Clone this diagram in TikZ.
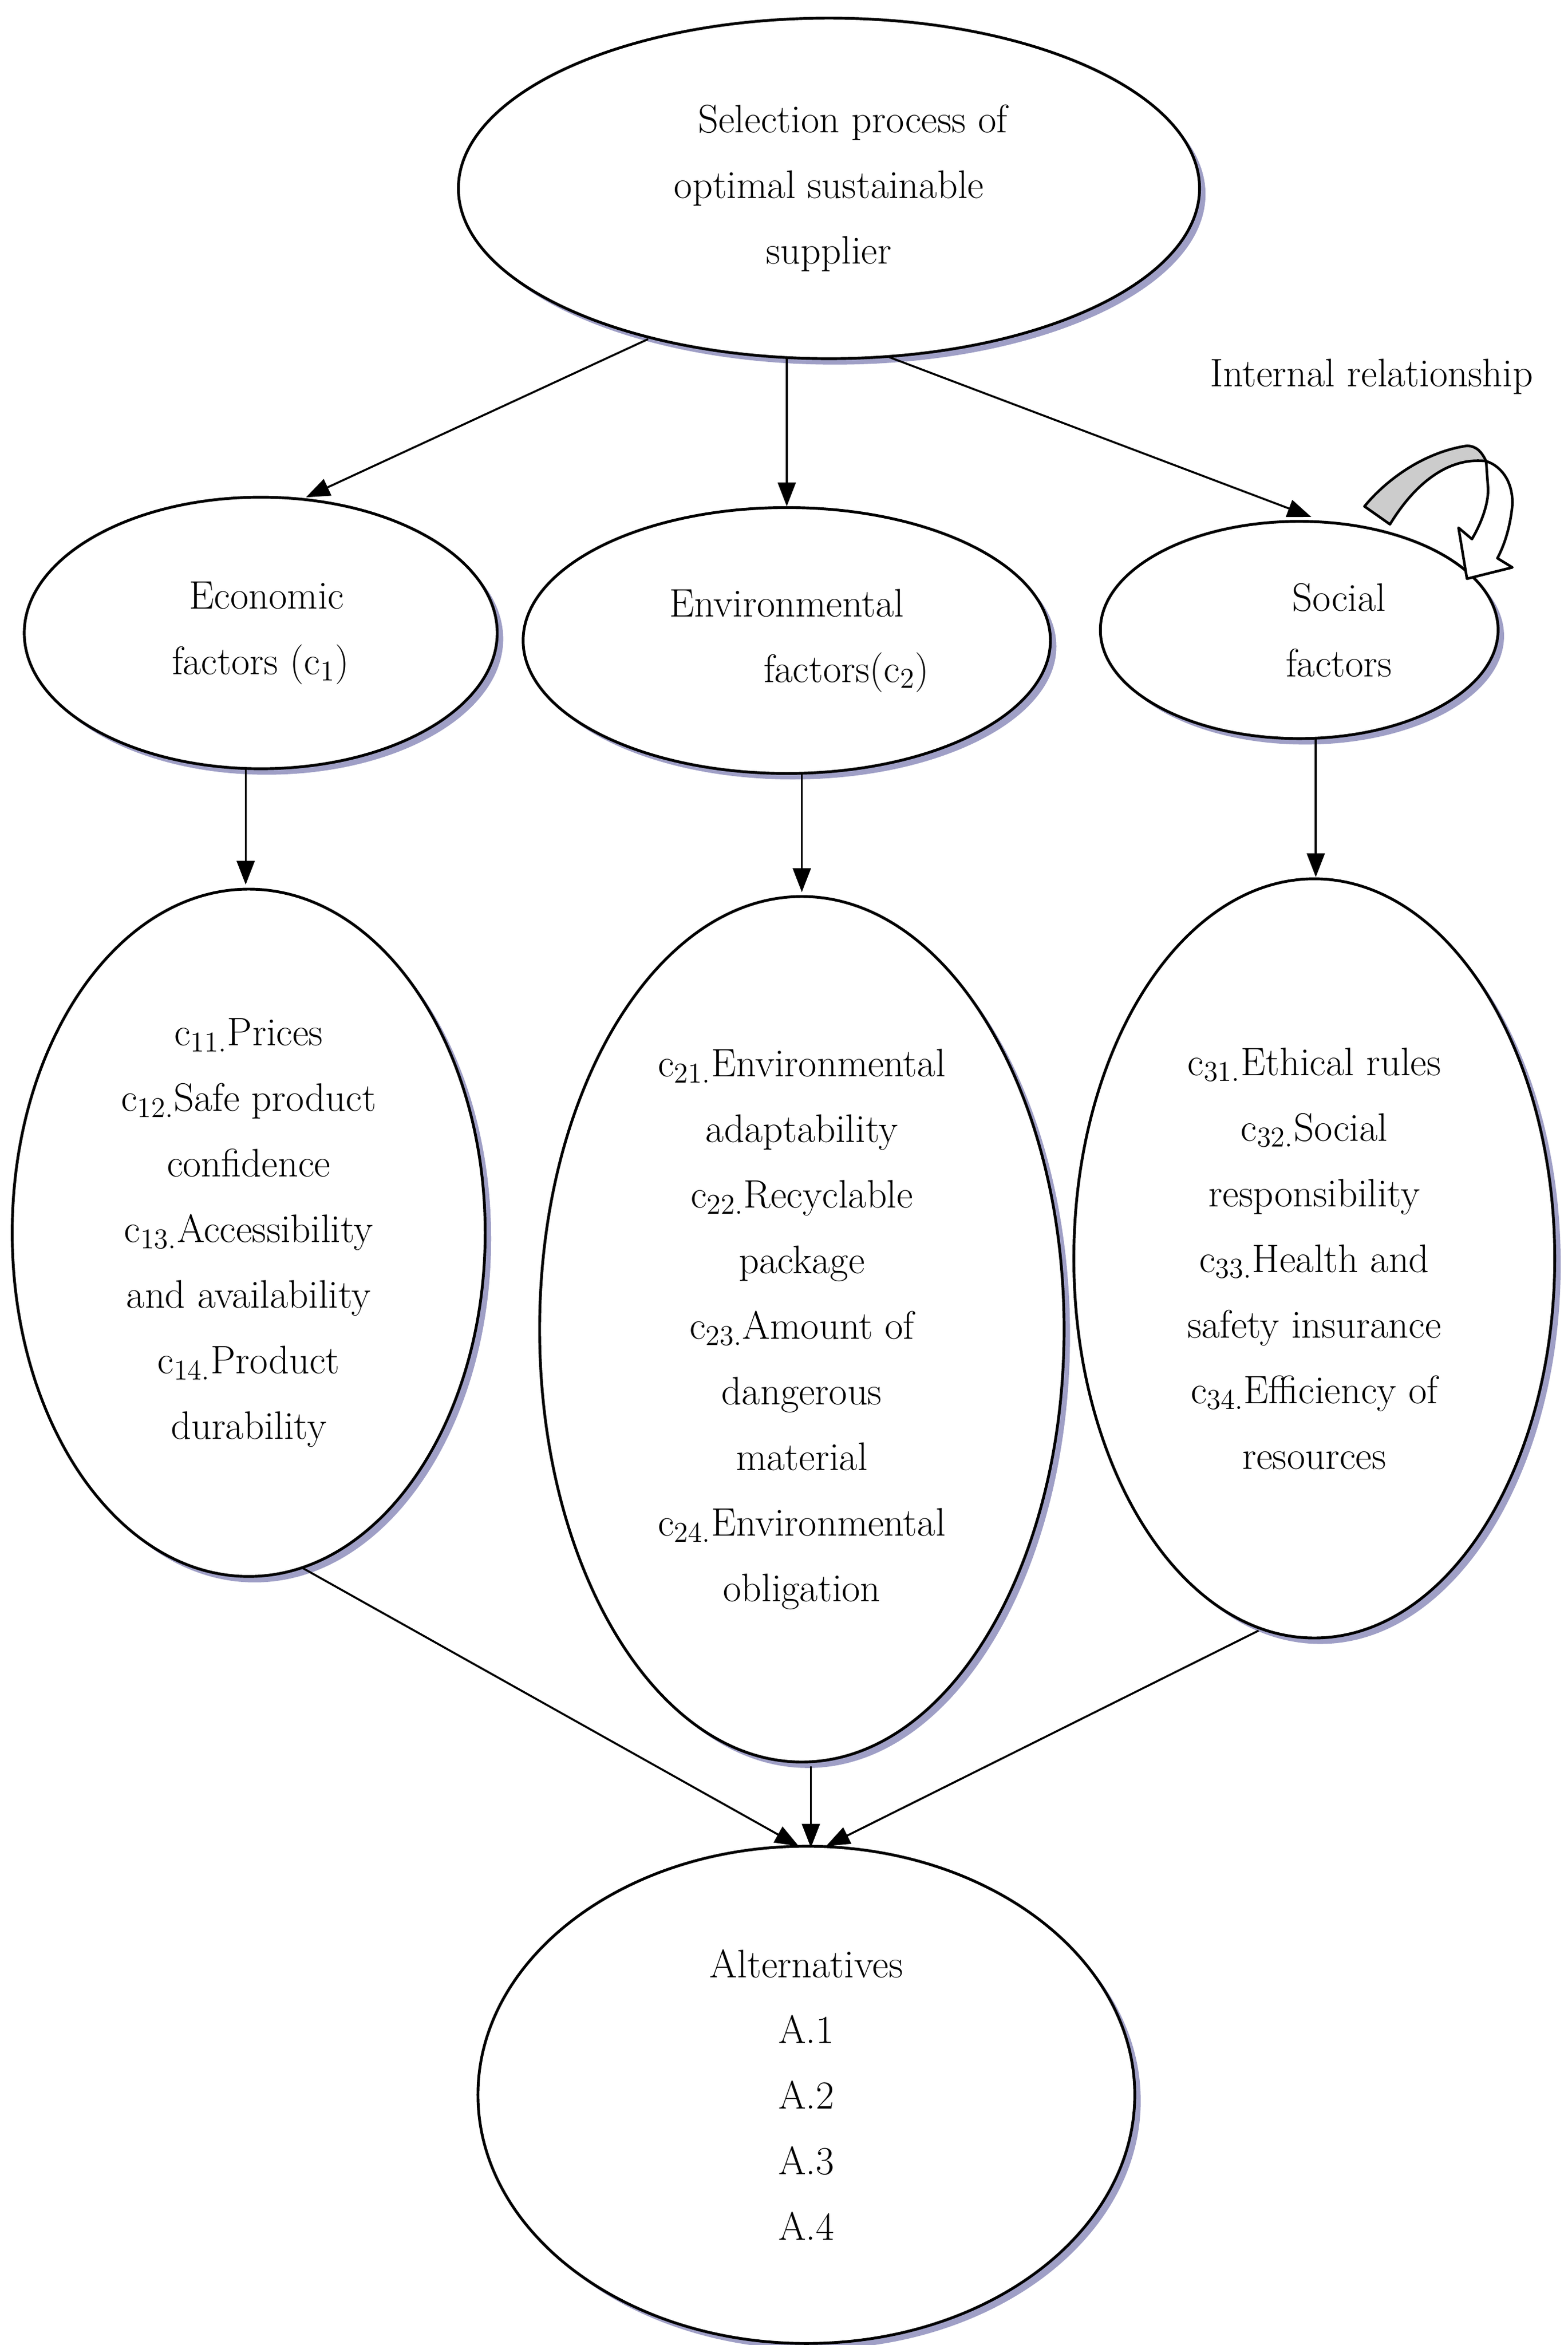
\documentclass[tikz,border=0pt]{standalone}
\usetikzlibrary{shapes.geometric,shadows,arrows.meta}
\begin{document}
\begin{tikzpicture}[x=0.02664cm,y=-0.02664cm,
  el/.style={ellipse,draw,line width=1.4pt,fill=white,inner sep=-4pt,
    drop shadow={shadow xshift=3pt,shadow yshift=-3pt,fill=blue!25!gray!60,opacity=1},
    font=\fontsize{20}{33}\selectfont,align=center},
  ar/.style={-{Triangle[length=12pt,width=9pt]},line width=1pt}]
\useasboundingbox (0,0) rectangle (1040,1556);
\node[el,minimum width=13.1cm,minimum height=6.02cm] (top) at (550,125) {\hspace*{1.2em}Selection process of\\optimal sustainable\\supplier};
\node[el,minimum width=8.36cm,minimum height=4.8cm] (eco) at (173,420) {\hspace*{0.3em}Economic\\factors (c$_1$)};
\node[el,minimum width=9.32cm,minimum height=4.7cm] (env) at (522,425) {Environmental\\\hspace*{3em}factors(c$_2$)};
\node[el,minimum width=7.03cm,minimum height=3.84cm] (soc) at (862,418) {\hspace*{2em}Social\\\hspace*{2em}factors};
\node[el,minimum width=8.36cm,minimum height=12.15cm] (l1) at (165,818) {c$_{11.}$Prices\\c$_{12.}$Safe product\\confidence\\c$_{13.}$Accessibility\\and availability\\c$_{14.}$Product\\durability};
\node[el,minimum width=9.27cm,minimum height=15.3cm] (l2) at (532,882) {c$_{21.}$Environmental\\adaptability\\c$_{22.}$Recyclable\\package\\c$_{23.}$Amount of\\dangerous\\material\\c$_{24.}$Environmental\\obligation};
\node[el,minimum width=8.5cm,minimum height=13.42cm] (l3) at (872,835) {c$_{31.}$Ethical rules\\c$_{32.}$Social\\responsibility\\c$_{33.}$Health and\\safety insurance\\c$_{34.}$Efficiency of\\resources};
\node[el,minimum width=11.61cm,minimum height=8.79cm] (alt) at (535,1390) {Alternatives\\A.1\\A.2\\A.3\\A.4};
\node[font=\fontsize{20}{33}\selectfont] (ir) at (910,250) {Internal relationship};
\coordinate (t1) at (430,225); \coordinate (t1e) at (203,330);
\coordinate (t2) at (522,237); \coordinate (t2e) at (522,336);
\coordinate (t3) at (590,237); \coordinate (t3e) at (870,343);
\draw[ar] (t1) -- (t1e);
\draw[ar] (t2) -- (t2e);
\draw[ar] (t3) -- (t3e);
\coordinate (e1) at (163,510); \coordinate (e1e) at (163,587);
\coordinate (e2) at (532,513); \coordinate (e2e) at (532,592);
\coordinate (e3) at (873,490); \coordinate (e3e) at (873,582);
\draw[ar] (e1) -- (e1e);
\draw[ar] (e2) -- (e2e);
\draw[ar] (e3) -- (e3e);
\coordinate (a1) at (200,1040); \coordinate (a2) at (538,1172); \coordinate (a3) at (835,1082);
\coordinate (ae1) at (530,1225); \coordinate (ae2) at (538,1226); \coordinate (ae3) at (548,1225);
\draw[ar] (a1) -- (ae1);
\draw[ar] (a2) -- (ae2);
\draw[ar] (a3) -- (ae3);
% internal relationship arrow
\draw[line width=1.3pt,line join=round,fill=white]
  (986,306) .. controls (998,310) and (1004,322) .. (1003.4,335.2)
  .. controls (1002,350) and (998,362) .. (993.5,370.4)
  -- (1003.4,376.5) -- (973.3,384) -- (967.7,350.2) -- (976.6,357.7)
  .. controls (984,345) and (988,332) .. (987.2,322.8) -- cycle;
\draw[line width=1.3pt,line join=round,fill=gray!40]
  (905.3,336) .. controls (920,318) and (945,300) .. (973.3,295.8)
  .. controls (980,296) and (983,300) .. (986,306)
  .. controls (960,303) and (938,322) .. (922.2,347.9) -- cycle;
\end{tikzpicture}
\end{document}
